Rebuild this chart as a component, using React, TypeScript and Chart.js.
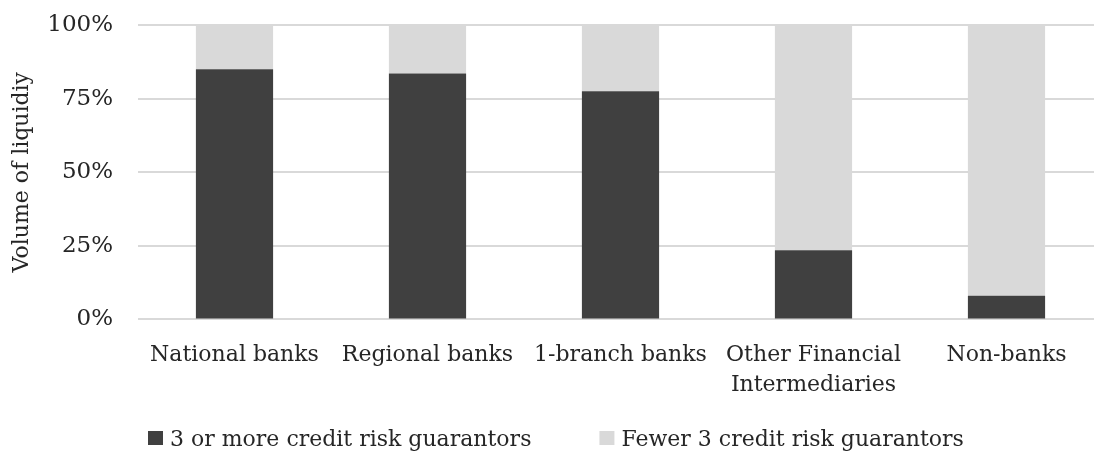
import React, { useEffect, useRef } from "react";
import { Chart, registerables } from "chart.js";

Chart.register(...registerables);

const categories: (string | string[])[] = [
  "National banks",
  "Regional banks",
  "1-branch banks",
  ["Other Financial", "Intermediaries"],
  "Non-banks",
];
const seriesNames = ["3 or more credit risk guarantors", "Fewer 3 credit risk guarantors"];
const threeOrMore = [85, 83.5, 77.5, 23.5, 8];
const fewerThree = [15, 16.5, 22.5, 76.5, 92];
const yTicks = [0, 25, 50, 75, 100];

const FONT = "'DejaVu Serif', serif";
const TEXT = "#262626";
const DARK = "#404040";
const LIGHT = "#d9d9d9";

// Legend row drawn under the axis labels
const bottomLegend = {
  id: "bottomLegend",
  afterDraw(chart: Chart) {
    const { ctx, chartArea } = chart;
    ctx.save();
    ctx.font = `22px ${FONT}`;
    ctx.textBaseline = "alphabetic";
    ctx.textAlign = "left";
    let x = chartArea.left + 10;
    const y = 438;
    chart.data.datasets.forEach((ds: any) => {
      ctx.fillStyle = ds.backgroundColor;
      ctx.fillRect(x, y - 7, 15, 14);
      ctx.fillStyle = TEXT;
      const tx = x + 22;
      ctx.fillText(ds.label, tx, y + 8);
      x = tx + ctx.measureText(ds.label).width + 68;
    });
    ctx.restore();
  },
};

export default function App() {
  const ref = useRef<HTMLCanvasElement>(null);

  useEffect(() => {
    if (!ref.current) return;
    const chart = new Chart(ref.current, {
      type: "bar",
      data: {
        labels: categories,
        datasets: [
          { label: seriesNames[0], data: threeOrMore, backgroundColor: DARK },
          { label: seriesNames[1], data: fewerThree, backgroundColor: LIGHT },
        ],
      },
      options: {
        responsive: false,
        animation: false,
        layout: { padding: { left: 0, right: 1, top: 25, bottom: 31 } },
        datasets: {
          bar: { categoryPercentage: 1, barPercentage: 0.4 },
        },
        plugins: {
          legend: { display: false },
          tooltip: { enabled: false },
        },
        scales: {
          x: {
            stacked: true,
            grid: { display: false, drawTicks: false },
            border: { display: false },
            ticks: {
              color: TEXT,
              font: { family: FONT, size: 22, lineHeight: 1.4 },
              padding: 20,
              maxRotation: 0,
              autoSkip: false,
            },
          },
          y: {
            stacked: true,
            min: 0,
            max: 100,
            afterFit(scale: any) {
              scale.width = 138;
            },
            afterBuildTicks(scale: any) {
              scale.ticks = yTicks.map((v) => ({ value: v }));
            },
            grid: {
              color: "#d9d9d9",
              lineWidth: 2,
              drawTicks: true,
              tickLength: 25,
              tickColor: "rgba(0,0,0,0)",
            },
            border: { display: false },
            ticks: {
              color: TEXT,
              font: { family: FONT, size: 23 },
              padding: 0,
              callback: (v: any) => `${v}%`,
            },
            title: {
              display: true,
              text: "Volume of liquidiy",
              color: TEXT,
              font: { family: FONT, size: 22 },
              padding: { top: 9, bottom: 0 },
            },
          },
        },
      },
      plugins: [bottomLegend],
    });
    return () => chart.destroy();
  }, []);

  return (
    <div
      style={{
        position: "absolute",
        left: 0,
        top: 0,
        width: 1094,
        height: 452,
        overflow: "hidden",
        background: "#fff",
      }}
    >
      <canvas ref={ref} width={1104} height={452} />
    </div>
  );
}
